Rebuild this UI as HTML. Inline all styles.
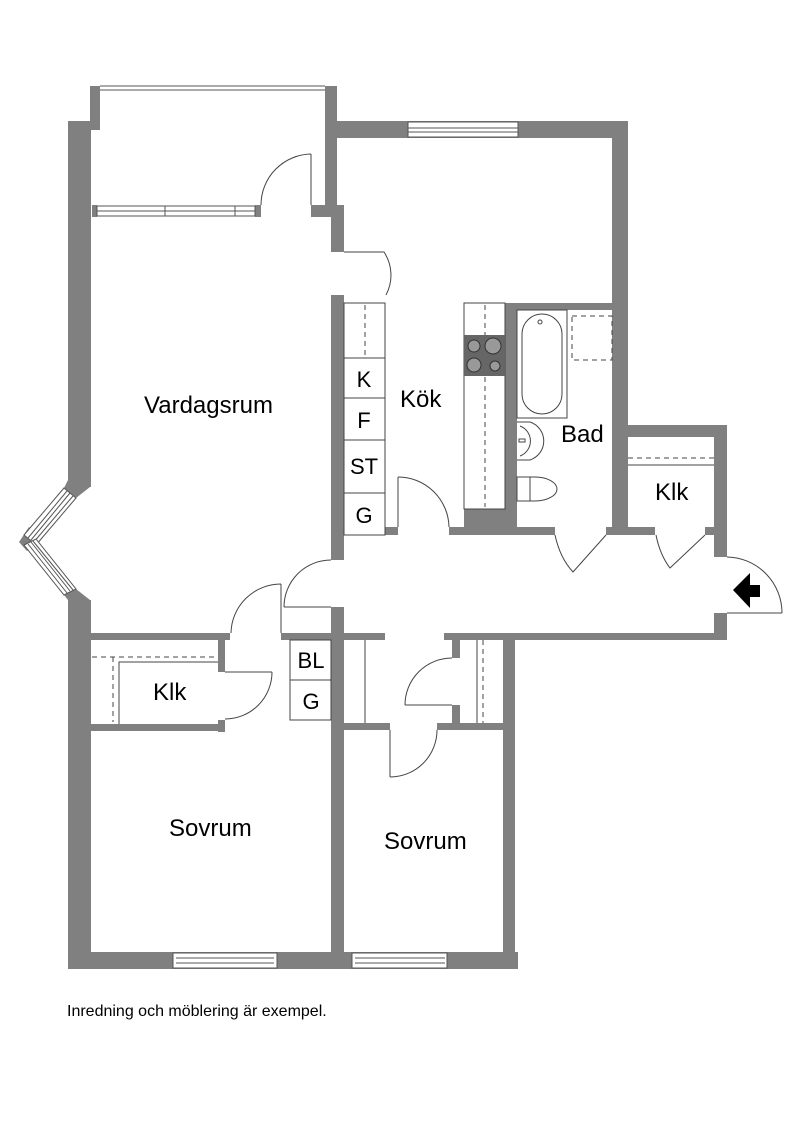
<!DOCTYPE html>
<html><head><meta charset="utf-8"><style>
html,body{margin:0;padding:0;background:#fff;}
svg{display:block;}
text{font-family:"Liberation Sans",Arial,sans-serif;fill:#000;}
</style></head><body>
<svg width="800" height="1132" viewBox="0 0 800 1132" xmlns="http://www.w3.org/2000/svg">
<rect width="800" height="1132" fill="#fff"/>
<g fill="#808080">
<rect x="68" y="121" width="23" height="366"/>
<rect x="68" y="600" width="23" height="369"/>
<rect x="90" y="86" width="10" height="44"/>
<rect x="325" y="86" width="12" height="131"/>
<rect x="311" y="205" width="26" height="12"/>
<rect x="331" y="205" width="13" height="47"/>
<rect x="92" y="205" width="5" height="12"/>
<rect x="255" y="205" width="6" height="12"/>
<rect x="331" y="121" width="297" height="17"/>
<rect x="612" y="121" width="16" height="414"/>
<rect x="331" y="295" width="13" height="265"/>
<rect x="331" y="607" width="13" height="362"/>
<rect x="385" y="527" width="13" height="8"/>
<rect x="449" y="527" width="106" height="8"/>
<rect x="606" y="527" width="49" height="8"/>
<rect x="705" y="527" width="22" height="8"/>
<rect x="464" y="509" width="53" height="20"/>
<rect x="505" y="303" width="12" height="226"/>
<rect x="505" y="303" width="110" height="7"/>
<rect x="612" y="425" width="115" height="12"/>
<rect x="714" y="425" width="13" height="132"/>
<rect x="714" y="613" width="13" height="27"/>
<rect x="444" y="633" width="283" height="7"/>
<rect x="503" y="633" width="12" height="336"/>
<rect x="90" y="633" width="140" height="7"/>
<rect x="281" y="633" width="50" height="7"/>
<rect x="344" y="633" width="41" height="7"/>
<rect x="218" y="640" width="7" height="32"/>
<rect x="218" y="720" width="7" height="12"/>
<rect x="90" y="724" width="135" height="7"/>
<rect x="344" y="723" width="46" height="7"/>
<rect x="437" y="723" width="66" height="7"/>
<rect x="452" y="640" width="8" height="18"/>
<rect x="452" y="705" width="8" height="18"/>
<rect x="68" y="952" width="450" height="17"/>
<polygon points="68,480 90,480 90,487 76,498 64,488"/>
<polygon points="29,527 36,535 36,545 27,551 19,542"/>
<polygon points="64,595 76,589 90,600 68,600"/>
</g>
<g fill="#fff" stroke="#555" stroke-width="1">
<rect x="97" y="206" width="158" height="10"/>
<rect x="173" y="953" width="104" height="15"/>
<rect x="352" y="953" width="95" height="15"/>
<rect x="408" y="122" width="110" height="15"/>
</g>
<g stroke="#555" stroke-width="1" fill="none">
<line x1="97" y1="211" x2="255" y2="211"/>
<line x1="165" y1="206" x2="165" y2="216"/><line x1="235" y1="206" x2="235" y2="216"/>
<line x1="176" y1="958" x2="274" y2="958"/><line x1="176" y1="963" x2="274" y2="963"/>
<line x1="355" y1="958" x2="445" y2="958"/><line x1="355" y1="963" x2="445" y2="963"/>
<line x1="408" y1="128" x2="518" y2="128"/><line x1="408" y1="132" x2="518" y2="132"/>
<line x1="100" y1="86" x2="325" y2="86"/><line x1="100" y1="90" x2="325" y2="90"/>
<polygon points="64,488 76,498 36,545 24,535" fill="#fff"/>
<line x1="67" y1="491" x2="28" y2="538"/><line x1="70" y1="493" x2="31" y2="540"/><line x1="73" y1="496" x2="33" y2="543"/>
<polygon points="24,545 36,539 76,589 64,595" fill="#fff"/>
<line x1="28" y1="544" x2="67" y2="593"/><line x1="31" y1="542" x2="70" y2="591"/><line x1="33" y1="541" x2="73" y2="590"/>
</g>
<g stroke="#444" stroke-width="1" fill="none">
<line x1="311" y1="205" x2="311" y2="154"/><path d="M311,154 A51,51 0 0 0 261,205"/>
<path d="M344,252 L384,252 A42,42 0 0 1 386,295"/>
<line x1="398" y1="527" x2="398" y2="477"/><path d="M398,477 A51,51 0 0 1 449,527"/>
<line x1="331" y1="607" x2="284" y2="607"/><path d="M284,607 A47,47 0 0 1 331,560"/>
<line x1="281" y1="633" x2="281" y2="584"/><path d="M281,584 A50,50 0 0 0 231,633"/>
<line x1="225" y1="672" x2="272" y2="672"/><path d="M272,672 A47,47 0 0 1 225,719"/>
<line x1="390" y1="730" x2="390" y2="777"/><path d="M390,777 A47,47 0 0 0 437,730"/>
<line x1="452" y1="705" x2="405" y2="705"/><path d="M405,705 A47,47 0 0 1 452,658"/>
<path d="M555,535 Q560,558 573,572 L606,535"/>
<path d="M656,535 Q660,555 670,568 L705,535"/>
<line x1="727" y1="613" x2="782" y2="613"/><path d="M727,557 A56,56 0 0 1 782,613"/>
<rect x="344" y="303" width="41" height="232"/>
<line x1="344" y1="358" x2="385" y2="358"/><line x1="344" y1="398" x2="385" y2="398"/>
<line x1="344" y1="440" x2="385" y2="440"/><line x1="344" y1="493" x2="385" y2="493"/>
<line x1="365" y1="305" x2="365" y2="356" stroke-dasharray="5,4"/>
<rect x="464" y="303" width="41" height="206"/>
<line x1="485" y1="305" x2="485" y2="507" stroke-dasharray="5,4"/>
<rect x="290" y="640" width="41" height="80"/><line x1="290" y1="680" x2="331" y2="680"/>
<line x1="92" y1="657" x2="218" y2="657" stroke-dasharray="5,4"/>
<line x1="113" y1="657" x2="113" y2="722" stroke-dasharray="5,4"/>
<polyline points="119,724 119,662 218,662"/>
<line x1="365" y1="640" x2="365" y2="723"/>
<line x1="477" y1="640" x2="477" y2="723"/>
<line x1="483" y1="640" x2="483" y2="723" stroke-dasharray="5,4"/>
<line x1="628" y1="458" x2="714" y2="458" stroke-dasharray="5,4"/>
<line x1="628" y1="465" x2="714" y2="465"/>
<rect x="517" y="310" width="50" height="108"/>
<rect x="522" y="314" width="40" height="100" rx="20"/>
<circle cx="540" cy="322" r="2"/>
<rect x="572" y="316" width="40" height="44" stroke-dasharray="5,4"/>
<path d="M517,422 L530,422 A20,20 0 0 1 530,460 L517,460"/>
<path d="M520,426 A16,16 0 0 1 520,456"/>
<rect x="519" y="439" width="6" height="3"/>
<path d="M517,477 L535,477 A22,12 0 0 1 535,501 L517,501 Z"/>
<line x1="530" y1="477" x2="530" y2="501"/>
</g>
<rect x="464" y="335" width="41" height="41" fill="#666"/>
<g fill="#999" stroke="#333" stroke-width="1">
<circle cx="474" cy="346" r="6"/><circle cx="493" cy="346" r="8"/>
<circle cx="474" cy="365" r="7"/><circle cx="495" cy="366" r="5"/>
</g>
<polygon points="733,590 750,573 750,585 760,585 760,597 750,597 750,608" fill="#000"/>
<g font-size="24">
<text x="144" y="413">Vardagsrum</text>
<text x="400" y="407">Kök</text>
<text x="561" y="442">Bad</text>
<text x="655" y="500">Klk</text>
<text x="153" y="700">Klk</text>
<text x="169" y="836">Sovrum</text>
<text x="384" y="849">Sovrum</text>
</g>
<g font-size="22" text-anchor="middle">
<text x="364" y="387">K</text>
<text x="364" y="428">F</text>
<text x="364" y="474">ST</text>
<text x="364" y="523">G</text>
<text x="311" y="668">BL</text>
<text x="311" y="709">G</text>
</g>
<text x="67" y="1016" font-size="16">Inredning och möblering är exempel.</text>
</svg>
</body></html>
